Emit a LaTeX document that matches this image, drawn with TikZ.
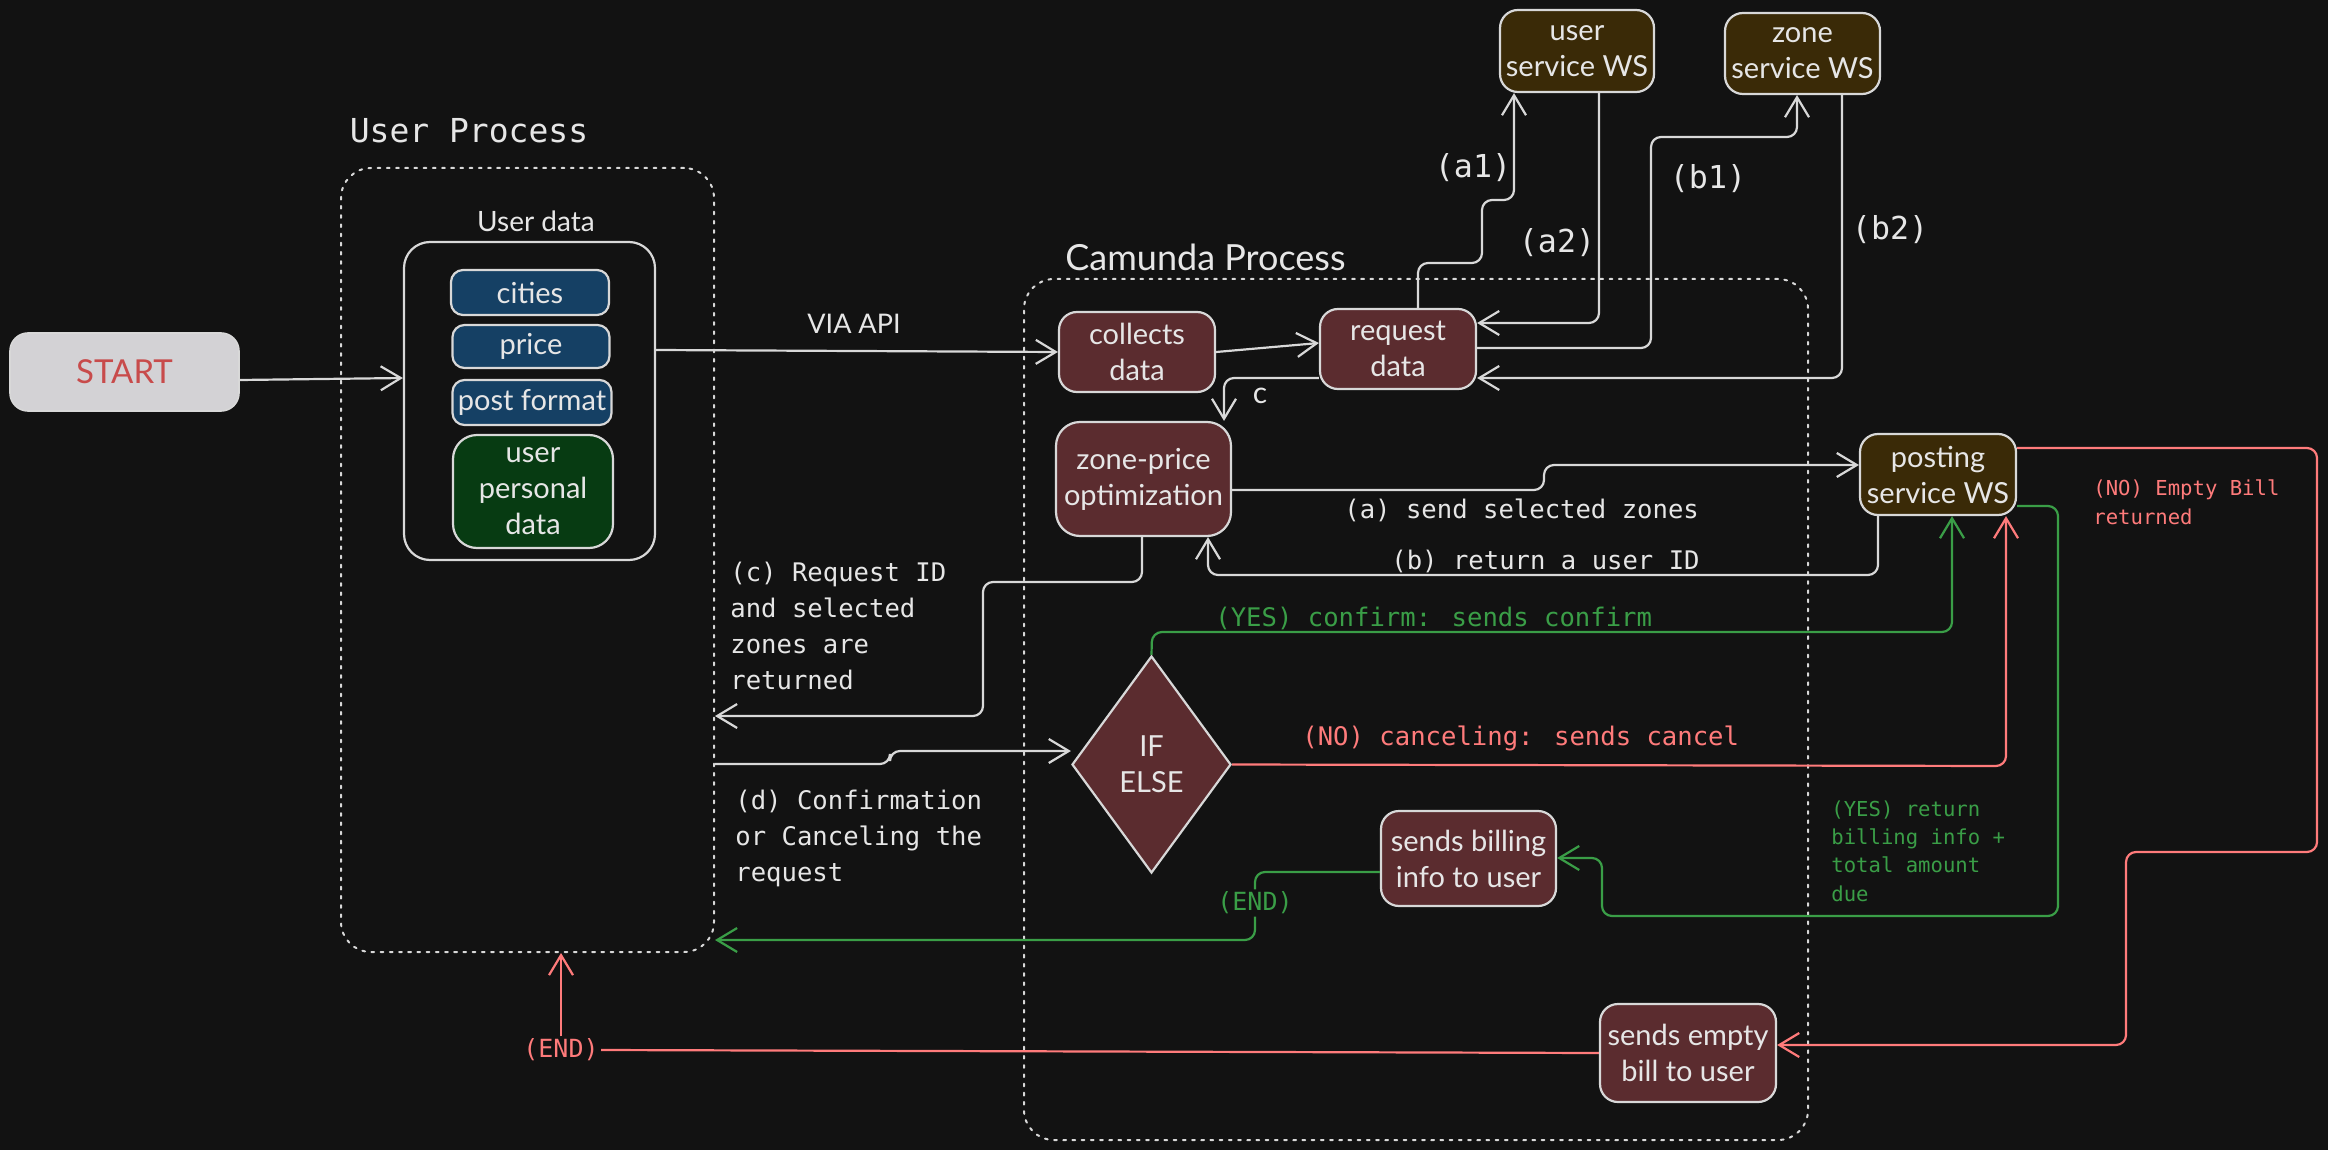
\documentclass[tikz,border=0pt]{standalone}
\usepackage{fontspec}
\setmainfont{Lato}
\newfontfamily\monof{DejaVu Sans Mono}
\usetikzlibrary{arrows.meta,shapes.geometric}
\definecolor{bgc}{HTML}{121212}
\definecolor{linec}{HTML}{D8D8D8}
\definecolor{textc}{HTML}{E6E6E6}
\definecolor{maroonf}{HTML}{5B2C2F}
\definecolor{brownf}{HTML}{3A2A07}
\definecolor{bluef}{HTML}{154064}
\definecolor{greenf}{HTML}{073B12}
\definecolor{startf}{HTML}{D3D2D5}
\definecolor{startt}{HTML}{C84B4B}
\definecolor{greenl}{HTML}{3A9E47}
\definecolor{redl}{HTML}{FF7B7B}
\begin{document}
\begin{tikzpicture}[x=0.5pt,y=-0.5pt,
  mbox/.style={draw=linec, line width=1.1pt, fill=maroonf, rounded corners=9pt, align=center, text=textc, inner sep=0pt, font=\fontsize{14.5}{18}\selectfont},
  wsbox/.style={mbox, fill=brownf},
  smallbox/.style={mbox, fill=bluef, rounded corners=6pt},
  dotbox/.style={draw=linec, line width=1pt, rounded corners=15pt, dash pattern=on 1.4pt off 3.2pt, line cap=round, inner sep=0pt},
  conn/.style={draw=linec, line width=1.1pt, rounded corners=5pt, -{Straight Barb[length=10pt,width=12pt]}},
  gconn/.style={conn, draw=greenl},
  rconn/.style={conn, draw=redl},
  plain/.style={draw=linec, line width=1.1pt, rounded corners=5pt},
  lbl/.style={text=textc, font=\monof\fontsize{12.8}{18}\selectfont, align=left, inner sep=0pt},
  slbl/.style={font=\monof\fontsize{10.3}{14.2}\selectfont, align=left, inner sep=0pt},
  big/.style={text=textc, font=\monof\fontsize{15.8}{20}\selectfont, inner sep=0pt},
  sans/.style={text=textc, font=\fontsize{14}{18}\selectfont, inner sep=0pt}
]
\fill[bgc] (0,0) rectangle (2328,1150);
\useasboundingbox (0,0) rectangle (2328,1150);

% containers
\node[dotbox, minimum width=186.5pt, minimum height=392pt] (userproc) at (527.5,560) {};
\node[dotbox, minimum width=392pt, minimum height=430.5pt] (camunda) at (1416,709.5) {};
\node[text=textc, font=\monof\fontsize{16.5}{20}\selectfont, inner sep=0pt] (uptitle) at (469,131) {User Process};
\node[text=textc, font=\fontsize{18}{22}\selectfont, inner sep=0pt, anchor=west] (camtitle) at (1065,257) {Camunda Process};

% start
\node[draw=linec, line width=0.8pt, fill=startf, rounded corners=9pt, minimum width=114.5pt, minimum height=39pt, text=startt, font=\fontsize{16.5}{18}\selectfont, inner sep=0pt] (start) at (124.5,372) {START};

% user data
\node[sans] (udlabel) at (536,221) {User data};
\node[draw=linec, line width=1.1pt, rounded corners=13pt, minimum width=125.5pt, minimum height=159pt, inner sep=0pt] (userdata) at (529.5,401) {};
\node[smallbox, minimum width=79pt, minimum height=22.5pt] (cities) at (530,292.5) {cities};
\node[smallbox, minimum width=78.5pt, minimum height=21.5pt] (price) at (531,346.5) {price};
\node[smallbox, minimum width=79.5pt, minimum height=22.5pt] (postformat) at (532,402.5) {post format};
\node[smallbox, fill=greenf, rounded corners=12pt, minimum width=80pt, minimum height=56.5pt] (personal) at (533,491.5) {user\\personal\\data};

% camunda nodes
\node[mbox, minimum width=78pt, minimum height=40pt] (collects) at (1137,352) {collects\\data};
\node[mbox, minimum width=78pt, minimum height=40pt] (request) at (1398,349) {request\\data};
\node[mbox, rounded corners=12pt, minimum width=87.5pt, minimum height=57pt] (zoneprice) at (1143.5,479) {zone-price\\optimization};
\node[diamond, draw=linec, line width=1.1pt, fill=maroonf, text=textc, align=center, inner sep=0pt, minimum width=79.5pt, minimum height=108.5pt, font=\fontsize{14.5}{18}\selectfont] (ifelse) at (1151.5,764.5) {IF\\ELSE};
\node[mbox, minimum width=87.5pt, minimum height=47.5pt] (billing) at (1468.5,858.5) {sends billing\\info to user};
\node[mbox, minimum width=88pt, minimum height=49pt] (emptybill) at (1688,1053) {sends empty\\bill to user};

% services
\node[wsbox, minimum width=77pt, minimum height=41pt] (userws) at (1577,51) {user\\service WS};
\node[wsbox, minimum width=77.5pt, minimum height=40.5pt] (zonews) at (1802.5,53.5) {zone\\service WS};
\node[wsbox, minimum width=78pt, minimum height=40.5pt] (postingws) at (1938,474.5) {posting\\service WS};

% start -> user data
\draw[conn] (start.east |- 0,380) -- (userdata.west |- 0,378);
% user data -> collects
\draw[conn] (userdata.east |- 0,350) -- (collects.west |- 0,352);
\node[sans, font=\fontsize{13.5}{16}\selectfont] (viaapi) at (854,324) {VIA API};
% collects -> request
\draw[conn] (collects.east) -- (request.west |- 0,343);

% a1
\draw[conn] (1418,0 |- request.north) -- (1418,263) -- (1482,263) -- (1482,200) -- (1514,200) -- (userws.south -| 1514,0);
\node[big] (la1) at (1473,168) {(a1)};
% a2
\draw[conn] (userws.south -| 1599,0) |- (request.east |- 0,323);
\node[big] (la2) at (1557,243) {(a2)};
% b1
\draw[conn] (request.east |- 0,348) -- (1651,348) -- (1651,137) -- (1797,137) -- (zonews.south -| 1797,0);
\node[big] (lb1) at (1708,179) {(b1)};
% b2
\draw[conn] (zonews.south -| 1842,0) |- (request.east |- 0,378);
\node[big] (lb2) at (1890,230) {(b2)};
% c
\draw[conn] (request.west |- 0,378) -| (zoneprice.north -| 1224,0);
\node[sans, font=\fontsize{15}{18}\selectfont] (lc) at (1260,396) {c};

% (a) send selected zones
\draw[conn] (zoneprice.east |- 0,490) -- (1544,490) -- (1544,465) -- (postingws.west |- 0,465);
\node[lbl, anchor=west] (lsend) at (1344,510) {(a) send selected zones};
% (b) return a user ID
\draw[conn] (postingws.south -| 1878,0) -- (1878,575) -- (1208,575) -- (zoneprice.south -| 1208,0);
\node[lbl, anchor=west] (lret) at (1391,561) {(b) return a user ID};

% (c) request ID returned
\draw[conn] (zoneprice.south -| 1142,0) -- (1142,582) -- (983,582) -- (983,716) -- (userproc.east |- 0,716);
\node[lbl, anchor=north west] (lreq) at (730,562) {(c) Request ID\\and selected\\zones are\\returned};

% (d) confirmation
\draw[conn] (userproc.east |- 0,764) -- (890,764) -- (890,751) -- (ifelse.west |- 0,751);
\node[lbl, anchor=north west] (lconf) at (735,790) {(d) Confirmation\\or Canceling the\\request};

% YES confirm
\draw[gconn] (ifelse.north) -- (1152,632) -- (1952,632) -- (postingws.south -| 1952,0);
\node[lbl, text=greenl, anchor=west] (lyes) at (1215,618) {(YES) confirm: sends confirm};
% NO cancel
\draw[rconn] (ifelse.east) -- (2006,766) -- (postingws.south -| 2006,0);
\node[lbl, text=redl, anchor=west] (lno) at (1302,738) {(NO) canceling: sends cancel};

% YES return billing
\draw[gconn] (postingws.east |- 0,506) -- (2058,506) -- (2058,916) -- (1602,916) -- (1602,858) -- (billing.east |- 0,858);
\node[slbl, text=greenl, anchor=north west] (lbill) at (1831,800) {(YES) return\\billing info +\\total amount\\due};

% NO empty bill
\draw[rconn] (postingws.east |- 0,448) -- (2317,448) -- (2317,852) -- (2126,852) -- (2126,1045) -- (emptybill.east |- 0,1045);
\node[slbl, text=redl, anchor=north west, font=\monof\fontsize{10.3}{14.8}\selectfont] (lempty) at (2093,479) {(NO) Empty Bill\\returned};

% green END
\node[text=greenl, font=\monof\fontsize{12.5}{15}\selectfont, inner sep=1pt] (endg) at (1255,903) {(END)};
\draw[plain, draw=greenl] (billing.west |- 0,872) -| (endg.north);
\draw[gconn] (endg.south) |- (userproc.east |- 0,940);

% red END
\node[text=redl, font=\monof\fontsize{12.5}{15}\selectfont, inner sep=1pt] (endr) at (561,1050) {(END)};
\draw[plain, draw=redl] (emptybill.west) -- (endr.east);
\draw[rconn] (endr.north) -- (userproc.south -| endr.north);
\end{tikzpicture}
\end{document}
